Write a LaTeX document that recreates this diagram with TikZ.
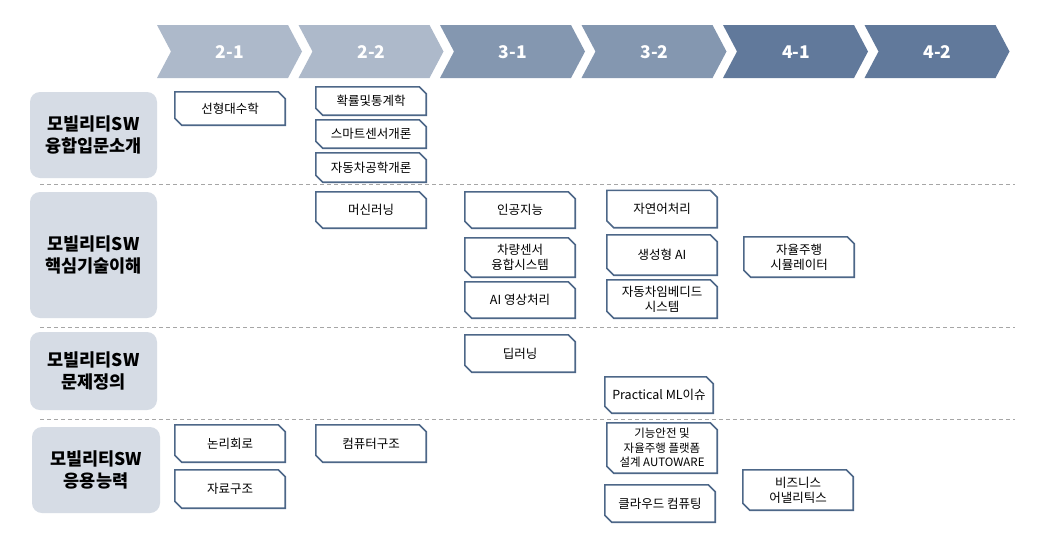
\documentclass[tikz,border=0pt]{standalone}
\usepackage{fontspec}
\setmainfont{Noto Sans CJK KR}
\definecolor{chA}{HTML}{ADB9CA}
\definecolor{chB}{HTML}{8497B0}
\definecolor{chC}{HTML}{61799B}
\definecolor{catfill}{HTML}{D6DCE5}
\definecolor{cborder}{HTML}{4D6788}
\definecolor{sepgray}{HTML}{A6A6A6}
\begin{document}
\begin{tikzpicture}[x=1pt,y=-1pt,
  course/.style={minimum width=110pt, inner sep=0pt, align=center,
    font=\fontsize{12.5}{15}\selectfont, text=black,
    append after command={\pgfextra{\draw[cborder,line width=1.6pt,line join=miter]
      (\tikzlastnode.north west) -- ([xshift=-7pt]\tikzlastnode.north east)
      -- ([yshift=-7pt]\tikzlastnode.north east) -- (\tikzlastnode.south east)
      -- ([xshift=7pt]\tikzlastnode.south west) -- ([yshift=7pt]\tikzlastnode.south west)
      -- cycle;}}},
  cat/.style={fill=catfill, rounded corners=10pt, minimum width=127pt, inner sep=0pt,
    align=center, font=\bfseries\fontsize{17.5}{22.5}\selectfont, text=black},
  chlabel/.style={text=white, font=\bfseries\fontsize{17.5}{17.5}\selectfont, inner sep=0pt},
  sep/.style={sepgray, line width=0.9pt, dash pattern=on 4pt off 3pt}
]
\useasboundingbox[fill=white] (0,0) rectangle (1040,541);

% chevrons
\foreach \L/\t/\c [count=\i] in {157/2-1/chA, 298.5/2-2/chA, 440/3-1/chB, 581.5/3-2/chB, 723/4-1/chC, 864.5/4-2/chC}{
  \fill[\c] (\L,25) -- (\L+131,25) -- (\L+145,51.5) -- (\L+131,78) -- (\L,78) -- (\L+14,51.5) -- cycle;
  \node[chlabel] (ch\i) at (\L+73,52) {\t};
}

% separators
\draw[sep] (40,184) -- (1015,184);
\draw[sep] (40,327) -- (1015,327);
\draw[sep] (40,419) -- (1015,419);

% categories
\node[cat, minimum height=86pt] (k1) at (93.5,135) {모빌리티SW\\융합입문소개};
\node[cat, minimum height=126pt] (k2) at (93.5,255) {모빌리티SW\\핵심기술이해};
\node[cat, minimum height=78pt] (k3) at (93.5,371) {모빌리티SW\\문제정의};
\node[cat, minimum height=86pt, minimum width=128pt] (k4) at (96,470) {모빌리티SW\\응용능력};

% courses
\node[course, minimum height=33pt] (c1) at (230,108.5) {선형대수학};
\node[course, minimum height=28pt] (c2) at (371,101) {확률및통계학};
\node[course, minimum height=28pt] (c3) at (371,134) {스마트센서개론};
\node[course, minimum height=29pt] (c4) at (371,167.5) {자동차공학개론};
\node[course, minimum height=36pt] (c5) at (371,210) {머신러닝};
\node[course, minimum height=36pt] (c6) at (520,210) {인공지능};
\node[course, minimum height=39pt] (c7) at (520,257.5) {차량센서\\융합시스템};
\node[course, minimum height=36pt] (c8) at (520,300) {AI 영상처리};
\node[course, minimum height=37pt] (c9) at (662,209) {자연어처리};
\node[course, minimum height=40pt] (c10) at (662,255) {생성형 AI};
\node[course, minimum height=38pt] (c11) at (662,299) {자동차임베디드\\시스템};
\node[course, minimum height=40pt] (c12) at (799,257) {자율주행\\시뮬레이터};
\node[course, minimum height=37pt] (c13) at (520,353.5) {딥러닝};
\node[course, minimum height=36pt, minimum width=108pt] (c14) at (659,395) {Practical ML이슈};
\node[course, minimum height=37pt] (c15) at (230,443.5) {논리회로};
\node[course, minimum height=38pt] (c16) at (230,489) {자료구조};
\node[course, minimum height=37pt] (c17) at (371,443.5) {컴퓨터구조};
\node[course, minimum height=50pt, font=\fontsize{11.5}{14.5}\selectfont] (c18) at (662,448) {기능안전 및\\자율주행 플랫폼\\설계 AUTOWARE};
\node[course, minimum height=37pt] (c19) at (660,503.5) {클라우드 컴퓨팅};
\node[course, minimum height=40pt] (c20) at (798,490) {비즈니스\\어낼리틱스};
\end{tikzpicture}
\end{document}
